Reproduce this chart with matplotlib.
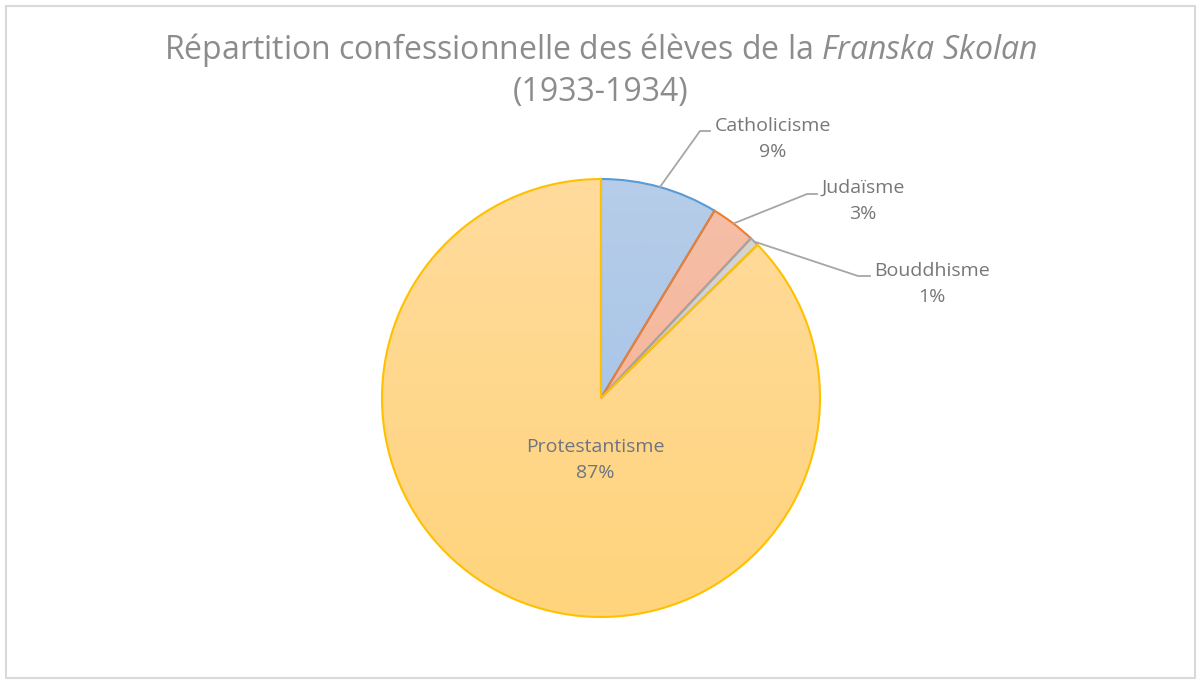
import numpy as np
import matplotlib
matplotlib.use("Agg")
import matplotlib.pyplot as plt
from matplotlib.patches import Rectangle
from matplotlib.colors import LinearSegmentedColormap

plt.rcParams['font.family'] = ['Open Sans', 'DejaVu Sans']
plt.rcParams['mathtext.fontset'] = 'custom'
plt.rcParams['mathtext.rm'] = 'Open Sans'
plt.rcParams['mathtext.it'] = 'Open Sans:italic'

# data (pupils, 1933-1934)
religions = ["Catholicisme", "Judaïsme", "Bouddhisme", "Protestantisme"]
shares = [8.67, 3.33, 0.67, 87.33]
pct_labels = ["9%", "3%", "1%", "87%"]

edge_colors = ["#5B9BD5", "#ED7D31", "#A5A5A5", "#FFC000"]
grad_top = ["#B7CDE8", "#F6BFA8", "#D6D6D6", "#FFDB9C"]
grad_bottom = ["#9CBFE8", "#F4B093", "#C8C8C8", "#FFD47C"]

W, H = 1200, 684
fig = plt.figure(figsize=(W / 100, H / 100), dpi=100)
ax = fig.add_axes([0, 0, 1, 1])

cx, cy, r = 601, H - 398, 219

wedges, _ = ax.pie(shares, startangle=90, counterclock=False,
                   center=(cx, cy), radius=r, frame=True,
                   wedgeprops=dict(linewidth=1.5))

# vertical gradient fill for every wedge
grad = np.linspace(0, 1, 256).reshape(-1, 1)
for w, ec, top, bot in zip(wedges, edge_colors, grad_top, grad_bottom):
    w.set_facecolor("none")
    w.set_edgecolor(ec)
    w.set_zorder(3)
    cmap = LinearSegmentedColormap.from_list("g", [bot, top])
    im = ax.imshow(grad, cmap=cmap, extent=[cx - r, cx + r, cy - r, cy + r],
                   origin="lower", aspect="auto", zorder=2)
    im.set_clip_path(w)
ax.set_xlim(0, W)
ax.set_ylim(0, H)
ax.set_aspect("equal")
ax.axis("off")

# outer labels with leader lines
label_pos = [(773, H - 139), (863, H - 201), (932, H - 284)]
bend_pos = [(700, H - 131), (807, H - 194), (858, H - 276)]
end_pos = [(710, H - 131), (817, H - 194), (870, H - 276)]
theta = 90.0
for i in range(4):
    span = shares[i] / sum(shares) * 360
    mid = np.deg2rad(theta - span / 2)
    theta -= span
    txt = religions[i] + "\n" + pct_labels[i]
    if i < 3:
        sx, sy = cx + r * np.cos(mid), cy + r * np.sin(mid)
        ax.plot([sx, bend_pos[i][0], end_pos[i][0]],
                [sy, bend_pos[i][1], end_pos[i][1]],
                color="#A6A6A6", lw=1.3, zorder=4)
        ax.text(label_pos[i][0], label_pos[i][1], txt, ha="center", va="center",
                fontsize=14, color="#777777", linespacing=1.6, zorder=5)
    else:
        ax.text(595, H - 460, txt, ha="center", va="center",
                fontsize=14, color="#6E7480", linespacing=1.6, zorder=5)

# title
fig.text(601 / W, 1 - 50 / H, "Répartition confessionnelle des élèves de la $\\mathit{Franska\\ Skolan}$",
         ha="center", va="center", fontsize=23, color="#8C8C8C")
fig.text(601 / W, 1 - 92 / H, "(1933-1934)", ha="center", va="center",
         fontsize=23, color="#8C8C8C")

# chart area border
fig.patches.append(Rectangle((6 / W, 6 / H), 1189 / W, 672 / H, transform=fig.transFigure,
                             fill=False, edgecolor="#D9D9D9", lw=1.5))

fig.savefig("out.png", dpi=100)
